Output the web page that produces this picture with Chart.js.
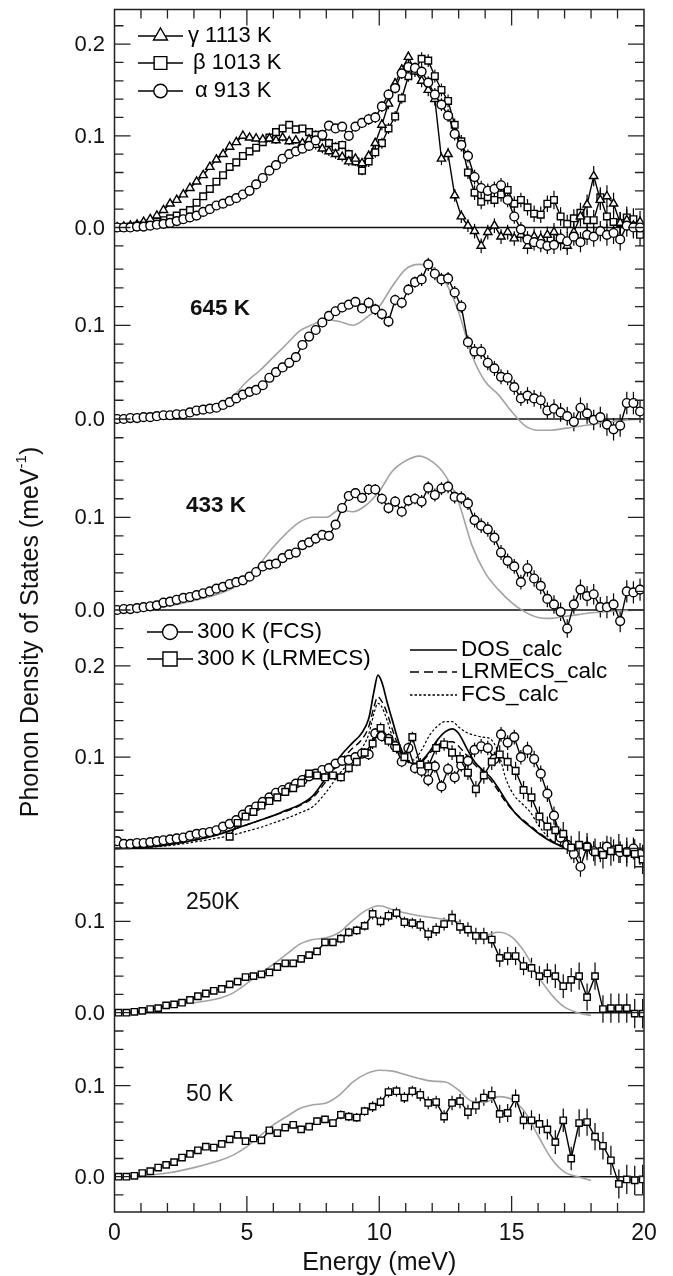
<!DOCTYPE html>
<html>
<head>
<meta charset="utf-8">
<title>Phonon density of states</title>
<script src="https://cdn.jsdelivr.net/npm/chart.js@4.4.1/dist/chart.umd.min.js"></script>
<style>
  html, body { margin: 0; padding: 0; background: #fff; }
  #chart { display: block; }
</style>
</head>
<body>
<canvas id="chart" width="673" height="1276"></canvas>
<script>
// energy grids (meV)
const eFine = [0.1, 0.35, 0.6, 0.85, 1.1, 1.35, 1.6, 1.85, 2.1, 2.35, 2.6, 2.85, 3.1, 3.35, 3.6, 3.85, 4.1, 4.35, 4.6, 4.85,
  5.1, 5.35, 5.6, 5.85, 6.1, 6.35, 6.6, 6.85, 7.1, 7.35, 7.6, 7.85, 8.1, 8.35, 8.6, 8.85, 9.1, 9.35, 9.6, 9.85,
  10.1, 10.35, 10.6, 10.85, 11.1, 11.35, 11.6, 11.85, 12.1, 12.35, 12.6, 12.85, 13.1, 13.35, 13.6, 13.85, 14.1, 14.35, 14.6, 14.85,
  15.1, 15.35, 15.6, 15.85, 16.1, 16.35, 16.6, 16.85, 17.1, 17.35, 17.6, 17.85, 18.1, 18.35, 18.6, 18.85, 19.1, 19.35, 19.6, 19.85];
const eSquare = [0.15, 0.45, 0.75, 1.05, 1.35, 1.65, 1.95, 2.25, 2.55, 2.85, 3.15, 3.45, 3.75, 4.05, 4.35, 4.65, 4.95, 5.25, 5.55, 5.85,
  6.15, 6.45, 6.75, 7.05, 7.35, 7.65, 7.95, 8.25, 8.55, 8.85, 9.15, 9.45, 9.75, 10.05, 10.35, 10.65, 10.95, 11.25, 11.55, 11.85,
  12.15, 12.45, 12.75, 13.05, 13.35, 13.65, 13.95, 14.25, 14.55, 14.85, 15.15, 15.45, 15.75, 16.05, 16.35, 16.65, 16.95, 17.25, 17.55, 17.85,
  18.15, 18.45, 18.75, 19.05, 19.35, 19.65, 19.95];
const eCalc = [0, 1, 2, 3, 4, 4.5, 5, 5.5, 6, 6.5, 7, 7.5, 8, 8.5, 9, 9.3, 9.6, 9.8, 9.95, 10.1, 10.3, 10.5, 10.75, 11,
  11.3, 11.6, 11.9, 12.2, 12.5, 12.75, 13, 13.3, 13.6, 13.9, 14.2, 14.5, 14.8, 15.1, 15.4, 15.7, 16, 16.3, 16.6, 17, 17.5];
const eGray = [0, 1, 2, 3, 4, 4.5, 5, 5.5, 6, 6.5, 7, 7.5, 8, 8.5, 9, 9.5, 10, 10.5, 11, 11.5, 12, 12.5, 13, 13.5,
  14, 14.5, 15, 15.5, 16, 16.5, 17, 17.5, 18, 19, 20];

// top panel: gamma, beta, alpha phases
const gamma1113 = [0.000, 0.001, 0.002, 0.003, 0.006, 0.009, 0.013, 0.019, 0.026, 0.030,
  0.036, 0.043, 0.050, 0.057, 0.066, 0.074, 0.080, 0.088, 0.093, 0.100,
  0.098, 0.097, 0.096, 0.097, 0.095, 0.098, 0.094, 0.095, 0.092, 0.096,
  0.090, 0.086, 0.083, 0.080, 0.077, 0.072, 0.075, 0.070, 0.078, 0.092,
  0.112, 0.135, 0.157, 0.172, 0.186, 0.170, 0.160, 0.150, 0.140, 0.075,
  0.080, 0.035, 0.012, 0.002, -0.004, -0.020, -0.005, 0.002, -0.010, -0.005,
  -0.012, -0.008, -0.020, -0.010, -0.012, -0.008, -0.005, -0.015, -0.020, -0.005,
  0.012, 0.025, 0.056, 0.030, 0.034, 0.026, 0.005, 0.008, 0.002, 0.006];
const beta1013 = [0.000, 0.000, 0.001, 0.002, 0.003, 0.004, 0.006, 0.008, 0.010, 0.013,
  0.016, 0.019, 0.027, 0.034, 0.042, 0.050, 0.057, 0.066, 0.071, 0.078,
  0.083, 0.087, 0.093, 0.098, 0.104, 0.108, 0.112, 0.107, 0.108, 0.104,
  0.101, 0.099, 0.092, 0.088, 0.090, 0.080, 0.072, 0.062, 0.072, 0.082,
  0.092, 0.108, 0.121, 0.141, 0.165, 0.172, 0.184, 0.182, 0.165, 0.150,
  0.138, 0.112, 0.094, 0.060, 0.038, 0.028, 0.033, 0.030, 0.036, 0.041,
  0.026, 0.030, 0.022, 0.015, 0.014, 0.026, 0.030, 0.012, 0.004, 0.010,
  0.016, 0.008, 0.008, 0.033, 0.012, 0.006, 0.005, 0.011, 0.009, -0.008];
const alpha913 = [0.000, 0.000, 0.000, 0.001, 0.001, 0.002, 0.003, 0.004, 0.005, 0.007,
  0.009, 0.011, 0.013, 0.017, 0.020, 0.024, 0.026, 0.029, 0.032, 0.036,
  0.040, 0.047, 0.054, 0.062, 0.068, 0.075, 0.080, 0.083, 0.086, 0.089,
  0.095, 0.101, 0.111, 0.108, 0.110, 0.100, 0.110, 0.114, 0.118, 0.120,
  0.132, 0.145, 0.152, 0.168, 0.175, 0.174, 0.170, 0.158, 0.145, 0.134,
  0.122, 0.102, 0.090, 0.078, 0.055, 0.043, 0.040, 0.042, 0.046, 0.030,
  0.012, -0.002, -0.013, -0.016, -0.018, -0.020, -0.019, -0.012, -0.015, -0.010,
  -0.016, -0.008, -0.010, -0.004, -0.008, -0.006, -0.013, 0.002, 0.000, 0.000];

// 645 K and 433 K
const dos645 = [0.000, 0.000, 0.001, 0.001, 0.002, 0.002, 0.003, 0.004, 0.004, 0.005,
  0.005, 0.007, 0.009, 0.010, 0.011, 0.012, 0.015, 0.018, 0.022, 0.026,
  0.029, 0.031, 0.036, 0.044, 0.050, 0.055, 0.060, 0.066, 0.079, 0.088,
  0.095, 0.103, 0.110, 0.115, 0.119, 0.122, 0.125, 0.118, 0.124, 0.117,
  0.112, 0.104, 0.127, 0.124, 0.138, 0.146, 0.149, 0.165, 0.155, 0.149,
  0.150, 0.135, 0.120, 0.082, 0.072, 0.072, 0.060, 0.054, 0.045, 0.044,
  0.034, 0.022, 0.025, 0.022, 0.020, 0.009, 0.011, 0.007, 0.003, -0.003,
  0.012, 0.006, -0.001, 0.002, -0.006, -0.011, -0.007, 0.017, 0.017, 0.008];
const calc645 = [0.000, 0.001, 0.003, 0.008, 0.015, 0.025, 0.040, 0.052, 0.066, 0.080, 0.094, 0.101, 0.106, 0.104, 0.100,
  0.108, 0.120, 0.142, 0.160, 0.165, 0.162, 0.146, 0.114, 0.068, 0.040, 0.026, 0.008, -0.007, -0.012, -0.012,
  -0.010, -0.008, -0.006, -0.002, 0.000];
const dos433 = [0.000, 0.001, 0.001, 0.002, 0.003, 0.004, 0.005, 0.008, 0.009, 0.011,
  0.013, 0.014, 0.016, 0.018, 0.020, 0.023, 0.025, 0.028, 0.030, 0.032,
  0.036, 0.041, 0.047, 0.049, 0.050, 0.056, 0.060, 0.062, 0.070, 0.073,
  0.077, 0.081, 0.080, 0.092, 0.110, 0.123, 0.126, 0.121, 0.130, 0.130,
  0.120, 0.110, 0.117, 0.106, 0.118, 0.120, 0.117, 0.132, 0.124, 0.131,
  0.133, 0.122, 0.121, 0.115, 0.097, 0.091, 0.087, 0.078, 0.062, 0.053,
  0.047, 0.030, 0.045, 0.034, 0.026, 0.012, 0.006, -0.002, -0.020, 0.006,
  0.022, 0.015, 0.017, 0.003, 0.003, 0.006, -0.012, 0.020, 0.019, 0.022];
const calc433 = [0.000, 0.001, 0.004, 0.010, 0.018, 0.024, 0.033, 0.050, 0.068, 0.083, 0.095, 0.100, 0.100, 0.108, 0.106,
  0.113, 0.128, 0.150, 0.161, 0.166, 0.160, 0.145, 0.116, 0.070, 0.040, 0.022, 0.008, -0.002, -0.008, -0.009,
  -0.007, -0.005, -0.003, -0.001, 0.000];

// 300 K
const fcs300 = [0.008, 0.005, 0.005, 0.006, 0.006, 0.007, 0.008, 0.009, 0.010, 0.011,
  0.012, 0.014, 0.016, 0.017, 0.018, 0.020, 0.024, 0.027, 0.031, 0.037,
  0.042, 0.046, 0.051, 0.056, 0.061, 0.064, 0.067, 0.071, 0.075, 0.079,
  0.082, 0.086, 0.088, 0.093, 0.096, 0.097, 0.100, 0.104, 0.103, 0.126,
  0.123, 0.120, 0.112, 0.095, 0.110, 0.088, 0.085, 0.075, 0.090, 0.068,
  0.087, 0.078, 0.091, 0.096, 0.108, 0.112, 0.110, 0.098, 0.125, 0.116,
  0.122, 0.100, 0.108, 0.098, 0.082, 0.060, 0.036, 0.012, 0.004, -0.006,
  -0.020, 0.002, -0.003, -0.004, 0.002, -0.002, -0.004, -0.004, 0.000, -0.006];
const lrmecs300 = [null, null, null, null, null, null, null, null, null, null, null, null, null, null,
  0.013, 0.028, 0.035, 0.040, 0.047, 0.052, 0.056, 0.062, 0.066, 0.072,
  0.082, 0.080, 0.078, 0.080, 0.078, 0.088, 0.095, 0.105, 0.115, 0.132,
  0.118, 0.110, 0.100, 0.122, 0.092, 0.090, 0.110, 0.114, 0.105, 0.098,
  0.083, 0.065, 0.080, 0.095, 0.103, 0.095, 0.085, 0.064, 0.056, 0.035,
  0.024, 0.020, 0.016, 0.001, 0.004, 0.002, -0.004, -0.007, -0.003, 0.000,
  -0.004, -0.006, -0.012];
const dosCalc = [0.000, 0.001, 0.004, 0.009, 0.016, 0.021, 0.026, 0.031, 0.036, 0.042, 0.048, 0.058, 0.078, 0.100, 0.116,
  0.125, 0.142, 0.172, 0.190, 0.182, 0.160, 0.140, 0.115, 0.099, 0.093, 0.096, 0.106, 0.119, 0.128, 0.131, 0.126,
  0.110, 0.095, 0.086, 0.078, 0.066, 0.052, 0.040, 0.031, 0.024, 0.017, 0.011, 0.006, 0.001, -0.001];
const lrmecsCalc = [0.000, 0.001, 0.004, 0.009, 0.016, 0.021, 0.026, 0.031, 0.036, 0.041, 0.047, 0.056, 0.074, 0.095, 0.110,
  0.118, 0.133, 0.155, 0.166, 0.161, 0.148, 0.130, 0.110, 0.097, 0.092, 0.095, 0.104, 0.113, 0.117, 0.117, 0.112,
  0.102, 0.092, 0.084, 0.075, 0.063, 0.050, 0.040, 0.032, 0.025, 0.018, 0.012, 0.007, 0.002, 0.000];
const fcsCalc = [0.000, 0.001, 0.003, 0.007, 0.012, 0.015, 0.019, 0.023, 0.028, 0.033, 0.039, 0.046, 0.062, 0.082, 0.098,
  0.108, 0.125, 0.148, 0.159, 0.155, 0.140, 0.122, 0.104, 0.096, 0.097, 0.108, 0.124, 0.134, 0.139, 0.139, 0.133,
  0.127, 0.124, 0.122, 0.120, 0.105, 0.075, 0.058, 0.049, 0.040, 0.026, 0.015, 0.007, 0.002, 0.000];

// 250 K and 50 K
const dos250 = [0.000, 0.000, 0.001, 0.002, 0.004, 0.005, 0.008, 0.009, 0.011, 0.014,
  0.018, 0.021, 0.024, 0.026, 0.031, 0.034, 0.039, 0.040, 0.042, 0.044,
  0.050, 0.054, 0.054, 0.059, 0.063, 0.067, 0.077, 0.077, 0.081, 0.088,
  0.090, 0.095, 0.108, 0.100, 0.106, 0.109, 0.099, 0.098, 0.096, 0.086,
  0.091, 0.097, 0.104, 0.094, 0.091, 0.084, 0.084, 0.080, 0.060, 0.062,
  0.062, 0.051, 0.049, 0.040, 0.043, 0.040, 0.029, 0.036, 0.040, 0.017,
  0.040, 0.004, 0.005, 0.005, 0.005, -0.001, -0.001];
const calc250 = [0.000, 0.002, 0.008, 0.011, 0.016, 0.022, 0.032, 0.043, 0.053, 0.064, 0.075, 0.080, 0.082, 0.088, 0.101,
  0.112, 0.117, 0.113, 0.109, 0.106, 0.104, 0.102, 0.099, 0.089, 0.085, 0.088, 0.083, 0.066, 0.040, 0.020,
  0.006, 0.000, -0.003, null, null];
const dos50 = [0.000, 0.000, 0.001, 0.004, 0.006, 0.010, 0.013, 0.016, 0.021, 0.025,
  0.029, 0.033, 0.032, 0.036, 0.041, 0.046, 0.039, 0.042, 0.040, 0.051,
  0.048, 0.054, 0.057, 0.052, 0.055, 0.061, 0.063, 0.059, 0.068, 0.066,
  0.065, 0.072, 0.077, 0.082, 0.093, 0.094, 0.087, 0.094, 0.090, 0.081,
  0.082, 0.066, 0.081, 0.083, 0.071, 0.078, 0.087, 0.090, 0.069, 0.070,
  0.086, 0.062, 0.062, 0.058, 0.052, 0.038, 0.062, 0.020, 0.059, 0.060,
  0.044, 0.034, 0.018, -0.008, -0.003, -0.004, -0.003];
const calc50 = [0.000, 0.001, 0.004, 0.010, 0.018, 0.024, 0.033, 0.045, 0.057, 0.066, 0.075, 0.079, 0.081, 0.090, 0.104,
  0.113, 0.117, 0.116, 0.112, 0.108, 0.105, 0.104, 0.095, 0.083, 0.082, 0.088, 0.085, 0.071, 0.045, 0.020,
  0.005, 0.000, -0.004, null, null];

// error bar half-widths, one per 1 meV bin (0..20)
const errDense = [0.001, 0.001, 0.002, 0.002, 0.003, 0.003, 0.004, 0.004, 0.005, 0.005, 0.006,
  0.006, 0.007, 0.007, 0.008, 0.008, 0.009, 0.010, 0.011, 0.012, 0.012];
const errSquare = [0.000, 0.001, 0.001, 0.002, 0.002, 0.003, 0.003, 0.004, 0.004, 0.005, 0.006,
  0.006, 0.007, 0.008, 0.009, 0.010, 0.011, 0.013, 0.015, 0.016, 0.016];

// tick labels
const xTickLabels = [0, 5, 10, 15, 20];
const yTickLabels = [[0, 0.1, 0.2], [0, 0.1], [0, 0.1], [0.1, 0.2], [0, 0.1], [0, 0.1]];
const panelNames = ['645 K', '433 K', '250K', '50 K'];

// layout of the stacked panels (pixel geometry only)
const area = { left: 114.5, right: 644, top: 9.5, bottom: 1212 };
const panels = [
  { id: 'p1', zero: 227.5, per01: 91.7, lo: -0.02, hi: 0.22 },
  { id: 'p2', zero: 419, per01: 93.7, lo: -0.02, hi: 0.16 },
  { id: 'p3', zero: 610, per01: 92.7, lo: -0.02, hi: 0.16 },
  { id: 'p4', zero: 848.5, per01: 91.3, lo: -0.02, hi: 0.22 },
  { id: 'p5', zero: 1012.7, per01: 91.4, lo: -0.02, hi: 0.14 },
  { id: 'p6', zero: 1176.7, per01: 91, lo: -0.02, hi: 0.14 }
];
const FONT = "'Liberation Sans', Arial, Helvetica, sans-serif";

function pts(xs, ys) {
  return xs.map((x, i) => (ys[i] == null ? null : { x: x, y: ys[i] })).filter(Boolean);
}

function markers(label, xs, ys, axis, style, radius, err) {
  return {
    label: label, data: pts(xs, ys), yAxisID: axis, showLine: true,
    borderColor: '#000', borderWidth: 1.4, tension: 0,
    pointStyle: style, pointRadius: radius, pointHoverRadius: radius,
    pointBackgroundColor: '#fff', pointBorderColor: '#000', pointBorderWidth: 1.4,
    errBins: err, order: 1
  };
}

function curve(label, xs, ys, axis, color, width, dash) {
  return {
    label: label, data: pts(xs, ys), yAxisID: axis, showLine: true,
    borderColor: color, borderWidth: width, borderDash: dash || [],
    pointRadius: 0, cubicInterpolationMode: 'monotone', order: 2
  };
}

const datasets = [
  markers('alpha 913 K', eFine, alpha913, 'p1', 'circle', 4.4, errDense),
  markers('gamma 1113 K', eFine, gamma1113, 'p1', 'triangle', 4.8, errDense),
  markers('beta 1013 K', eFine, beta1013, 'p1', 'rect', 4.7, errDense),
  curve('645 K calc', eGray, calc645, 'p2', '#a3a3a3', 1.6),
  markers('645 K', eFine, dos645, 'p2', 'circle', 4.4, errDense),
  curve('433 K calc', eGray, calc433, 'p3', '#a3a3a3', 1.6),
  markers('433 K', eFine, dos433, 'p3', 'circle', 4.4, errDense),
  curve('DOS_calc', eCalc, dosCalc, 'p4', '#000', 1.7),
  curve('LRMECS_calc', eCalc, lrmecsCalc, 'p4', '#000', 1.4, [7, 4]),
  curve('FCS_calc', eCalc, fcsCalc, 'p4', '#000', 1.2, [2.5, 2]),
  markers('300 K (LRMECS)', eSquare, lrmecs300, 'p4', 'rect', 4.7, errSquare),
  markers('300 K (FCS)', eFine, fcs300, 'p4', 'circle', 4.4, errDense),
  curve('250 K calc', eGray, calc250, 'p5', '#a3a3a3', 1.6),
  markers('250K', eSquare, dos250, 'p5', 'rect', 4.5, errSquare),
  curve('50 K calc', eGray, calc50, 'p6', '#a3a3a3', 1.6),
  markers('50 K', eSquare, dos50, 'p6', 'rect', 4.5, errSquare)
];

const scales = { x: { type: 'linear', min: 0, max: 20, display: false } };
panels.forEach(p => {
  const s = p.per01 * 10;
  scales[p.id] = {
    type: 'linear', display: false,
    min: -(area.bottom - p.zero) / s,
    max: (p.zero - area.top) / s
  };
});

function legendRow(ctx, x0, x1, y, style, radius, dash, label, tx, font) {
  ctx.save();
  ctx.strokeStyle = '#000';
  ctx.lineWidth = 1.4;
  ctx.setLineDash(dash || []);
  ctx.beginPath();
  ctx.moveTo(x0, y);
  ctx.lineTo(x1, y);
  ctx.stroke();
  ctx.setLineDash([]);
  if (style) {
    ctx.fillStyle = '#fff';
    Chart.helpers.drawPoint(ctx, { pointStyle: style, radius: radius, borderWidth: 1.4, rotation: 0 }, (x0 + x1) / 2, y);
  }
  ctx.fillStyle = '#000';
  ctx.font = font;
  ctx.textAlign = 'left';
  ctx.textBaseline = 'middle';
  ctx.fillText(label, tx, y);
  ctx.restore();
}

const decor = {
  id: 'decor',
  beforeDatasetsDraw(chart) {
    const ctx = chart.ctx;
    const a = chart.chartArea;
    ctx.save();
    // zero line of each panel
    ctx.strokeStyle = '#111';
    ctx.lineWidth = 1.4;
    panels.forEach(p => {
      const y = chart.scales[p.id].getPixelForValue(0);
      ctx.beginPath();
      ctx.moveTo(a.left, y);
      ctx.lineTo(a.right, y);
      ctx.stroke();
    });
    // error bars
    ctx.strokeStyle = '#000';
    ctx.lineWidth = 1.2;
    chart.data.datasets.forEach((ds, i) => {
      if (!ds.errBins) return;
      const meta = chart.getDatasetMeta(i);
      const ys = chart.scales[ds.yAxisID];
      meta.data.forEach((el, j) => {
        const d = ds.data[j];
        const e = ds.errBins[Math.min(20, Math.round(d.x))];
        if (!e) return;
        ctx.beginPath();
        ctx.moveTo(el.x, ys.getPixelForValue(d.y + e));
        ctx.lineTo(el.x, ys.getPixelForValue(d.y - e));
        ctx.stroke();
      });
    });
    ctx.restore();
  },
  afterDraw(chart) {
    const ctx = chart.ctx;
    const a = chart.chartArea;
    const xs = chart.scales.x;
    ctx.save();

    // frame
    ctx.strokeStyle = '#222';
    ctx.lineWidth = 1.5;
    ctx.strokeRect(a.left, a.top, a.right - a.left, a.bottom - a.top);

    // y ticks, inward on both sides
    ctx.lineWidth = 1.3;
    panels.forEach(p => {
      const ys = chart.scales[p.id];
      for (let k = Math.round(p.lo / 0.02); k <= Math.round(p.hi / 0.02); k++) {
        const y = ys.getPixelForValue(k * 0.02);
        const len = k % 5 === 0 ? 16 : 9;
        ctx.beginPath();
        ctx.moveTo(a.left, y); ctx.lineTo(a.left + len, y);
        ctx.moveTo(a.right, y); ctx.lineTo(a.right - len, y);
        ctx.stroke();
      }
    });
    // x ticks on top and bottom
    for (let e = 1; e < 20; e++) {
      const x = xs.getPixelForValue(e);
      const len = e % 5 === 0 ? 16 : 9;
      ctx.beginPath();
      ctx.moveTo(x, a.top); ctx.lineTo(x, a.top + len);
      ctx.moveTo(x, a.bottom); ctx.lineTo(x, a.bottom - len);
      ctx.stroke();
    }

    // tick labels
    ctx.fillStyle = '#111';
    ctx.textBaseline = 'middle';
    ctx.font = '22px ' + FONT;
    ctx.textAlign = 'right';
    panels.forEach((p, i) => {
      yTickLabels[i].forEach(v => {
        ctx.fillText(v.toFixed(1), 105, chart.scales[p.id].getPixelForValue(v) + 1);
      });
    });
    ctx.font = '23px ' + FONT;
    ctx.textAlign = 'center';
    xTickLabels.forEach(v => ctx.fillText(String(v), xs.getPixelForValue(v), 1234));

    // axis titles
    ctx.font = '25px ' + FONT;
    ctx.fillText('Energy (meV)', (a.left + a.right) / 2, 1263);
    ctx.save();
    ctx.translate(31, 632);
    ctx.rotate(-Math.PI / 2);
    const main = 'Phonon Density of States (meV';
    ctx.font = '25px ' + FONT;
    const w1 = ctx.measureText(main).width;
    ctx.font = '15px ' + FONT;
    const w2 = ctx.measureText('-1').width;
    ctx.font = '25px ' + FONT;
    const w3 = ctx.measureText(')').width;
    const x0 = -(w1 + w2 + w3) / 2;
    ctx.textAlign = 'left';
    ctx.fillText(main, x0, 0);
    ctx.font = '15px ' + FONT;
    ctx.fillText('-1', x0 + w1, -9);
    ctx.font = '25px ' + FONT;
    ctx.fillText(')', x0 + w1 + w2, 0);
    ctx.restore();

    // panel temperature labels
    ctx.textAlign = 'left';
    ctx.font = 'bold 22.5px ' + FONT;
    ctx.fillText(panelNames[0], 190, 309);
    ctx.fillText(panelNames[1], 186, 506);
    ctx.font = '23px ' + FONT;
    ctx.fillText(panelNames[2], 186, 903);
    ctx.fillText(panelNames[3], 186, 1095);

    // legends
    const lf = '22px ' + FONT;
    legendRow(ctx, 138, 183, 36, 'triangle', 8, null, '\u03b3 1113 K', 188, lf);
    legendRow(ctx, 138, 183, 63, 'rect', 9, null, '\u03b2 1013 K', 193, lf);
    legendRow(ctx, 138, 183, 91, 'circle', 6.7, null, '\u03b1 913 K', 195, lf);
    const lf4 = '22.5px ' + FONT;
    legendRow(ctx, 147, 193, 632, 'circle', 7.5, null, '300 K (FCS)', 197, lf4);
    legendRow(ctx, 147, 193, 659, 'rect', 10, null, '300 K (LRMECS)', 197, lf4);
    legendRow(ctx, 410, 457, 650, null, 0, null, 'DOS_calc', 461, lf4);
    legendRow(ctx, 410, 457, 672, null, 0, [9, 5], 'LRMECS_calc', 461, lf4);
    legendRow(ctx, 410, 457, 695, null, 0, [2.5, 2], 'FCS_calc', 461, lf4);

    ctx.restore();
  }
};

new Chart(document.getElementById('chart'), {
  type: 'scatter',
  data: { datasets: datasets },
  options: {
    responsive: false,
    devicePixelRatio: 1,
    animation: false,
    layout: { padding: { left: area.left, right: 673 - area.right, top: area.top, bottom: 1276 - area.bottom } },
    scales: scales,
    plugins: { legend: { display: false }, tooltip: { enabled: false } }
  },
  plugins: [decor]
});
</script>
</body>
</html>
